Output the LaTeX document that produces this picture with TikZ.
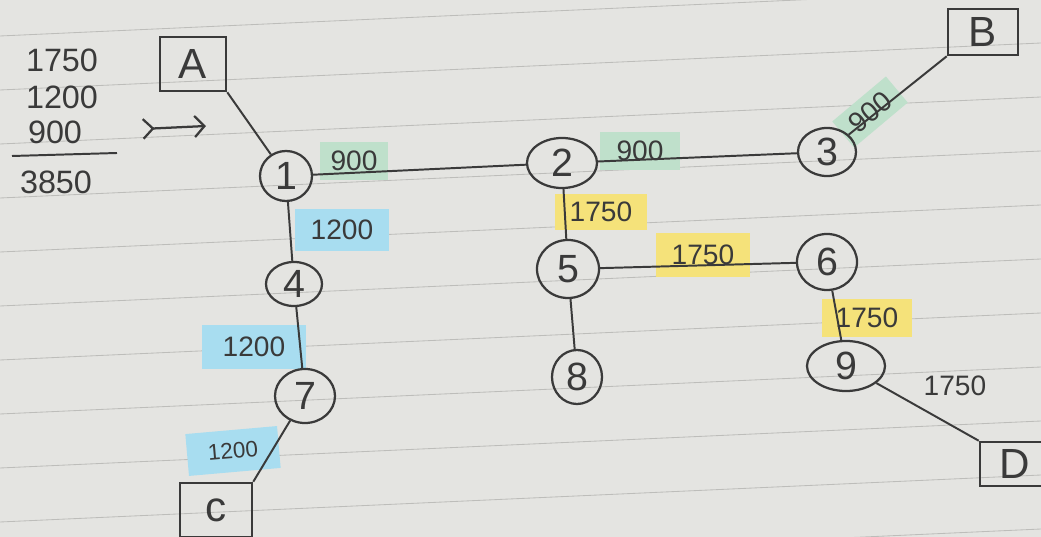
\documentclass[tikz,border=0pt]{standalone}
\usepackage{fontspec}
\setmainfont{Liberation Sans}
\usetikzlibrary{shapes.geometric,arrows.meta}
\definecolor{paper}{HTML}{E4E4E1}
\definecolor{ruling}{HTML}{BDBDBA}
\definecolor{ink}{HTML}{3A3A3A}
\definecolor{hlgreen}{HTML}{BFE0CB}
\definecolor{hlblue}{HTML}{A8DDF0}
\definecolor{hlyellow}{HTML}{F5E27A}
\tikzset{
 edge/.style={draw=ink, line width=1.4pt},
 vtx/.style={ellipse, draw=ink, line width=1.6pt, inner sep=0pt, text=ink, font=\fontsize{28}{28}\selectfont},
 term/.style={rectangle, draw=ink, line width=1.8pt, inner sep=0pt, text=ink, font=\fontsize{30}{30}\selectfont},
 wt/.style={inner sep=0pt, text=ink, font=\fontsize{20}{20}\selectfont},
 sumtxt/.style={inner sep=0pt, text=ink, font=\fontsize{23}{23}\selectfont},
}
\begin{document}
\begin{tikzpicture}[x=0.025cm,y=-0.025cm]
\fill[paper] (0,0) rectangle (1041,537);
\useasboundingbox (0,0) rectangle (1041,537);
\clip (0,0) rectangle (1041,537);
\foreach \k in {0,...,10} { \draw[ruling, line width=0.6pt] (0,36+54*\k) -- (1041,36+54*\k-47); }

% running sum
\node[sumtxt] (s1) at (62,60) {1750};
\node[sumtxt] (s2) at (62,97) {1200};
\node[sumtxt] (s3) at (55,132) {900};
\coordinate (barL) at (12,156);
\coordinate (barR) at (117,153);
\draw[edge] (barL) -- (barR);
\node[sumtxt] (s4) at (56,182) {3850};
\coordinate (arrS) at (142,129);
\coordinate (arrE) at (206,126);
\draw[edge, line width=1.6pt, {Straight Barb[reversed,length=7pt,width=14pt]}-{Straight Barb[length=7pt,width=15pt]}] (arrS) -- (arrE);

% weight labels with highlighter
\node[wt, fill=hlgreen, minimum width=1.7cm, minimum height=0.93cm] (w12) at (354,161) {900};
\node[wt, fill=hlgreen, minimum width=2.0cm, minimum height=0.95cm] (w23) at (640,151) {900};
\node[wt, fill=hlgreen, minimum width=1.75cm, minimum height=0.85cm, rotate=40] (w3B) at (870,112) {900};
\node[wt, fill=hlblue, minimum width=2.35cm, minimum height=1.05cm] (w14) at (342,230) {1200};
\node[wt, fill=hlblue, minimum width=2.6cm, minimum height=1.08cm] (w47) at (254,347) {1200};
\node[wt, fill=hlblue, minimum width=2.3cm, minimum height=1.05cm, font=\fontsize{16}{16}\selectfont, rotate=5] (w7C) at (233,451) {1200};
\node[wt, fill=hlyellow, minimum width=2.3cm, minimum height=0.92cm] (w25) at (601,212) {1750};
\node[wt, fill=hlyellow, minimum width=2.35cm, minimum height=1.1cm] (w56) at (703,255) {1750};
\node[wt, fill=hlyellow, minimum width=2.25cm, minimum height=0.95cm] (w69) at (867,318) {1750};
\node[wt] (w9D) at (955,386) {1750};

% terminals
\node[term, minimum width=1.65cm, minimum height=1.35cm] (A) at (193,64) {A};
\node[term, minimum width=1.75cm, minimum height=1.15cm] (B) at (983,32) {B};
\node[term, minimum width=1.8cm, minimum height=1.35cm] (C) at (216,510) {c};
\node[term, minimum width=1.75cm, minimum height=1.1cm] (D) at (1015,464) {D};

% vertices
\node[vtx, minimum width=1.3cm, minimum height=1.25cm] (n1) at (286,176) {1};
\node[vtx, minimum width=1.75cm, minimum height=1.25cm] (n2) at (562,163) {2};
\node[vtx, minimum width=1.45cm, minimum height=1.2cm] (n3) at (827,152) {3};
\node[vtx, minimum width=1.4cm, minimum height=1.1cm] (n4) at (294,284) {4};
\node[vtx, minimum width=1.55cm, minimum height=1.45cm] (n5) at (568,269) {5};
\node[vtx, minimum width=1.5cm, minimum height=1.4cm] (n6) at (827,262) {6};
\node[vtx, minimum width=1.5cm, minimum height=1.35cm] (n7) at (305,396) {7};
\node[vtx, minimum width=1.25cm, minimum height=1.35cm] (n8) at (577,377) {8};
\node[vtx, minimum width=1.95cm, minimum height=1.25cm] (n9) at (846,366) {9};

% connectors
\draw[edge] (A.south east) -- (n1);
\draw[edge] (n1) -- (n2);
\draw[edge] (n2) -- (n3);
\draw[edge] (n3) -- (B.south west);
\draw[edge] (n1) -- (n4);
\draw[edge] (n4) -- (n7);
\draw[edge] (n7) -- (C.north east);
\draw[edge] (n2) -- (n5);
\draw[edge] (n5) -- (n6);
\draw[edge] (n5) -- (n8);
\draw[edge] (n6) -- (n9);
\draw[edge] (n9) -- (D.north west);
\end{tikzpicture}
\end{document}
